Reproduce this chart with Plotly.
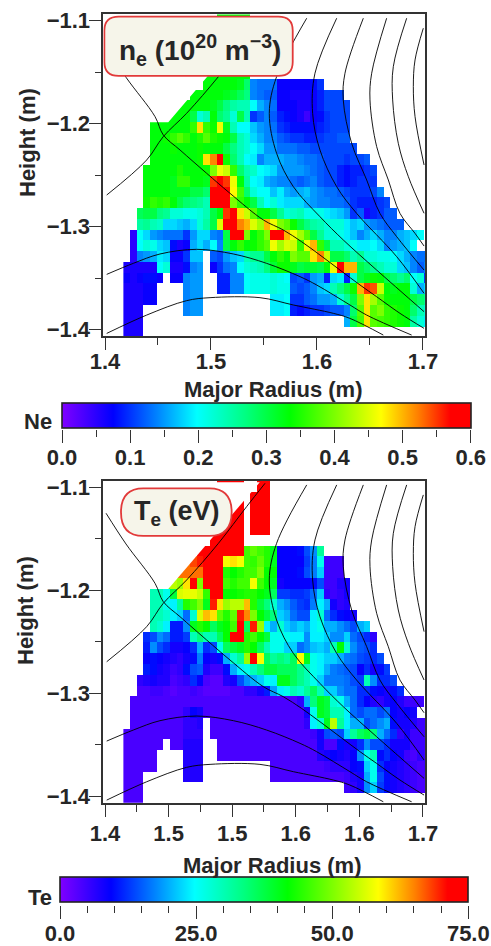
import plotly.graph_objects as go

N = None
# grid of the diagnostic cells (metres)
R_FIRST_CENTRE = 1.4205
R_STEP = 0.00629
Z_FIRST_CENTRE = -1.0991
Z_STEP = -0.010453
R_RANGE = [1.3984, 1.7019]
Z_RANGE = [-1.4061, -1.0939]
NE_RANGE = [0, 0.6]
TE_RANGE = [0, 75]

# electron density, units of 10^18 m^-3 (divide by 100 for 10^20)
NE_A6 = [N]*14 + [33, 33, 33, 33, 33]
NE_A5 = [N]*14 + [33, 33, 33, 33, 33]
NE_A4 = [N]*14 + [33, 33, 33, 33, 33]
NE_A3 = [N]*13 + [33, 33, 33, 33, 33, 33]
NE_A2 = [N]*13 + [33, 33, 33, 33, 33, 33]
NE_A1 = [N]*12 + [33, 33, 33, 33, 33, 33, 33]
NE_R00 = [N]*12 + [33, 33, 33, 33, 33, 32, 28, 14, 13, 13, 13, 7, 7, 7, 7, 7, 8, 10]
NE_R01 = [N]*10 + [33, 33, 33, 33, 33, 32, 31, 29, 27, 14, 13, 12, 12, 7, 7, 6, 6, 6, 7, 9, 11, 11, 11]
NE_R02 = [N]*8 + [33, 33, 33, 33, 33, 32, 30, 27, 25, 24, 24, 20, 16, 14, 13, 7, 7, 7, 6, 6, 7, 9, 11, 11, 11, 11]
NE_R03 = [N]*6 + [33, 33, 33, 33, 30, 22, 24, 33, 28, 26, 22, 30, 24, 10, 12, 14, 12, 9, 8, 7, 6, 4, 7, 8, 10, 11, 11, 11]
NE_R04 = [N]*4 + [33, 33, 33, 33, 33, 33, 36, 48, 36, 34, 46, 32, 24, 20, 20, 17, 15, 14, 13, 10, 9, 8, 8, 8, 8, 9, 10, 11, 11, 11]
NE_R05 = [N]*4 + [33, 33, 34, 36, 38, 36, 33, 35, 38, 35, 34, 33, 30, 24, 22, 18, 16, 14, 14, 12, 11, 10, 10, 9, 9, 10, 11, 11, 12, 12]
NE_R06 = [N]*4 + [33, 33, 33, 34, 33, 33, 33, 34, 33, 33, 33, 30, 27, 24, 22, 20, 18, 15, 15, 13, 13, 13, 12, 12, 11, 11, 11, 11, 11, 11, 11]
NE_R07 = [N]*4 + [33, 33, 33, 33, 33, 33, 33, 34, 48, 52, 57, 34, 28, 24, 20, 19, 14, 16, 16, 16, 15, 15, 14, 13, 13, 12, 11, 11, 11, 10, 11, 11, 12]
NE_R08 = [N]*3 + [33, 33, 33, 33, 33, 35, 33, 33, 33, 34, 40, 46, 44, 36, 28, 24, 23, 20, 19, 18, 15, 15, 15, 15, 14, 13, 12, 11, 11, 9, 8, 9, 9, 10, 11]
NE_R09 = [N]*3 + [33, 33, 33, 33, 32, 36, 36, 33, 33, 32, 55, 58, 55, 46, 33, 25, 20, 19, 16, 15, 14, 14, 13, 12, 13, 14, 12, 11, 11, 9, 8, 9, 10, 10, 10]
NE_R10 = [N]*3 + [33, 33, 33, 33, 32, 32, 32, 30, 30, 28, 58, 59, 58, 47, 37, 28, 22, 20, 20, 17, 19, 16, 15, 16, 17, 15, 14, 13, 13, 12, 11, 10, 10, 10, 11, 14]
NE_R11 = [N]*3 + [34, 36, 35, 36, 33, 30, 28, 27, 26, 24, 58, 59, 58, 40, 36, 33, 30, 24, 20, 22, 19, 18, 18, 18, 16, 15, 14, 14, 13, 13, 12, 10, 9, 9, 9, 10, 11]
NE_R12 = [N]*2 + [29, 30, 30, 27, 26, 22, 22, 21, 21, 22, 24, 30, 33, 55, 58, 48, 44, 38, 33, 33, 30, 26, 22, 23, 24, 21, 21, 21, 19, 18, 17, 15, 10, 12, 6, 9, 10, 12, 12]
NE_R13 = [N]*2 + [25, 26, 24, 23, 18, 18, 17, 16, 18, 22, 25, 30, 45, 58, 58, 52, 50, 45, 42, 50, 46, 40, 38, 34, 30, 27, 25, 24, 22, 22, 22, 19, 17, 18, 15, 14, 13, 12, 12, 12]
NE_R14 = [N]*1 + [5, 20, 18, 15, 14, 13, 13, 13, 10, 15, 18, 18, 14, 13, 30, 57, 58, 40, 33, 36, 40, 58, 58, 50, 46, 42, 38, 30, 26, 22, 22, 21, 19, 17, 14, 16, 18, 16, 14, 14, 16, 17, 18, 20]
NE_R15 = [N]*1 + [5, 20, 22, 21, 18, 17, 8, 6, 7, 16, 18, 16, 20, 14, 30, 33, 36, 33, 34, 36, 38, 46, 42, 45, 44, 36, 46, 50, 36, 30, 24, 24, 22, 21, 19, 19, 20, 18, 14, 15, 16, 17, 20]
NE_R16 = [N]*1 + [5, 14, 15, 16, 19, 18, 7, 7, 10, 17, 17, N, 12, 11, 15, 17, 18, 24, 26, 26, 30, 33, 36, 34, 40, 38, 38, 48, 52, 44, 30, 30, 28, 24, 26, 22, 22, 21, 21, 20, 18, 16, 14, 13, 13]
NE_R17 = [6, 6, 6, 6, 6, 20, 22, 6, 6, 8, 14, 15, N, 7, 10, 13, 14, 20, 22, 23, 24, 27, 31, 34, 34, 32, 30, 31, 31, 30, 33, 46, 58, 50, 50, 30, 28, 26, 24, 22, 22, 18, 17, 14, 12, 14]
NE_R18 = [7, 6, 7, 8, 8, 7, N, 7, 7, 14, 15, 15, N, N, 9, 9, 14, 14, 20, 21, 21, 21, 22, 21, 20, 11, 12, 10, 15, 16, 9, 18, 19, 9, 22, 30, 32, 34, 33, 30, 28, 26, 28, 20, 22, 10]
NE_R19 = [6, 6, 6, 7, 7, N, N, N, N, 14, 15, 15, N, N, 9, 9, 14, 14, 20, 21, 21, 21, 22, 21, 21, 12, 11, 12, 14, 17, 18, 24, 27, 30, 34, 50, 55, 54, 44, 33, 32, 33, 33, 22, 16, 18]
NE_R20 = [6, 6, 6, 7, 7, N, N, N, N, 14, 15, 15, N, N, N, N, N, N, N, N, N, N, 19, 19, 20, 10, 10, 12, 13, 15, 15, 16, 22, 26, 30, 40, 48, 42, 38, 34, 33, 33, 33, 30, 28, 26]
NE_R21 = [6, 6, 6, N, N, N, N, N, N, 14, 15, 15, N, N, N, N, N, N, N, N, N, N, 19, 19, 20, 9, 8, 9, 10, 10, 11, 12, 12, 14, 28, 38, 48, 38, 40, 36, 35, 34, 33, 28, 24, 22]
NE_R22 = [6, 6, 6] + [N]*30 + [16, 30, 37, 48, 38, 37, 36, 35, 34, 33, 25, 22, 19]
NE_R23 = [6, 6, 6]

# electron temperature, eV
TE_A6 = [N]*14 + [75, 75, 75, 75, N, N, 75, 75]
TE_A5 = [N]*14 + [75, 75, 75, 75, N, 75, 75, 75]
TE_A4 = [N]*15 + [75, 75, 75, N, 75, 75, 75]
TE_A3 = [N]*15 + [75, 75, 75, N, 75, 75, 75]
TE_A2 = [N]*14 + [75, 75, 75, 75, N, 75, 75, 75]
TE_A1 = [N]*13 + [75, 75, 75, 75, 75]
TE_R00 = [N]*11 + [75, 75, 75, 75, 75, 75, 75, 46, 48, 46, 44, 40, 9, 9, 9, 10, 14, 18, 32]
TE_R01 = [N]*9 + [66, 68, 70, 75, 75, 75, 58, 60, 58, 46, 45, 48, 44, 40, 9, 9, 9, 9, 13, 17, 26, 5, 5, 5]
TE_R02 = [N]*8 + [66, 66, 66, 66, 75, 75, 75, 44, 42, 44, 46, 46, 50, 42, 42, 9, 9, 9, 10, 14, 17, 22, 5, 5, 5]
TE_R03 = [N]*6 + [50, 54, 52, 60, 73, 50, 74, 75, 75, 46, 44, 46, 46, 58, 46, 42, 40, 8, 9, 9, 9, 9, 10, 14, 5, 5, 7, 8]
TE_R04 = [N]*4 + [30, 30, 26, 38, 56, 57, 57, 55, 45, 75, 75, 42, 42, 43, 44, 44, 42, 40, 36, 13, 13, 12, 12, 13, 16, 22, 6, 5, 6, 8]
TE_R05 = [N]*4 + [30, 30, 26, 24, 32, 44, 46, 50, 40, 70, 60, 52, 54, 54, 62, 44, 38, 34, 28, 20, 18, 15, 13, 12, 17, 24, 20, 8, 6, 7]
TE_R06 = [N]*4 + [30, 30, 28, 24, 22, 16, 28, 56, 62, 60, 48, 44, 48, 70, 65, 50, 42, 38, 34, 22, 20, 16, 14, 14, 24, 28, 16, 12, 10, 9, 8]
TE_R07 = [N]*4 + [30, 28, 24, 11, 11, 18, 40, 44, 42, 36, 40, 42, 46, 72, 36, 70, 52, 24, 20, 28, 22, 20, 22, 20, 24, 26, 20, 20, 18, 16, 14, 20, 22]
TE_R08 = [N]*3 + [12, 14, 18, 16, 11, 11, 13, 30, 34, 30, 30, 36, 42, 72, 74, 44, 46, 42, 38, 26, 26, 26, 24, 24, 18, 24, 24, 22, 18, 18, 22, 16, 14, 12, 6]
TE_R09 = [N]*3 + [11, 18, 14, 12, 8, 8, 9, 12, 20, 12, 14, 26, 36, 38, 40, 44, 42, 36, 30, 26, 26, 22, 22, 16, 18, 21, 22, 20, 30, 42, 28, 18, 15, 14, 12]
TE_R10 = [N]*3 + [9, 10, 9, 8, 7, 6, 8, 10, 17, 9, 8, 10, 20, 28, 32, 52, 72, 58, 36, 32, 34, 32, 36, 58, 40, 26, 24, 22, 22, 20, 17, 16, 14, 13, 12, 14]
TE_R11 = [N]*3 + [11, 10, 8, 7, 5, 6, 10, 14, 15, 7, 5, 5, 10, 20, 24, 26, 30, 34, 38, 38, 36, 36, 36, 33, 30, 26, 24, 20, 17, 16, 15, 14, 9, 12, 8, 10, 13]
TE_R12 = [N]*2 + [6, 7, 8, 7, 7, 4, 5, 6, 12, 9, 4, 3, 3, 7, 8, 14, 18, 20, 22, 26, 24, 40, 40, 36, 33, 30, 26, 22, 17, 17, 17, 16, 14, 13, 30, 18, 12, 12, 14]
TE_R13 = [N]*2 + [4, 4, 5, 5, 4, 3, 4, 4, 5, 4, 3, 3, 3, 3, 4, 4, 6, 6, 8, 11, 19, 24, 26, 30, 28, 32, 36, 30, 22, 22, 18, 16, 16, 12, 12, 10, 9, 8, 10, 12]
TE_R14 = [N]*1 + [4, 4, 4, 4, 4, 4, 4, 4, 4, 4, 4, 4, 4, 4, 4, 4, 4, 4, 4, 4, 4, 4, 4, 4, 4, 6, 20, 34, 40, 38, 28, 26, 20, 16, 12, 9, 7, 6, 8, 9, 7, 5, 5, 5]
TE_R15 = [N]*1 + [4, 4, 4, 4, 4, 4, 4, 4, 6, 9, 8, 4, 4, 4, 4, 4, 4, 4, 4, 4, 4, 4, 4, 4, 4, 4, 8, 26, 40, 38, 30, 30, 24, 16, 14, 16, 16, 14, 16, 9, 8, 9, 8]
TE_R16 = [N]*1 + [4, 4, 4, 4, 4, 4, 4, 4, 6, 6, 7, N, 4, 4, 4, 4, 4, 4, 4, 4, 4, 4, 4, 4, 4, 4, 6, 24, 28, 40, 54, 32, 24, 20, 20, 14, 16, 18, 20, 10, 8, 8, 7, 5, 5]
TE_R17 = [4, 4, 4, 4, 4, 4, 4, 4, 4, 6, 6, 6, N, 4, 4, 4, 4, 4, 4, 4, 4, 4, 4, 4, 4, 4, 4, 4, 5, 8, 14, 15, 14, 22, 32, 36, 38, 34, 20, 16, 12, 6, 8, 5, 5, 5]
TE_R18 = [4, 4, 4, 4, 4, 4, N, 4, 4, 7, 7, 7, N, N, 4, 4, 4, 4, 4, 4, 4, 4, 4, 4, 4, 4, 4, 4, 4, 8, 4, 4, 10, 8, 8, 12, 18, 14, 14, 12, 8, 8, 8, 5, 5, 5]
TE_R19 = [4, 4, 4, 4, 4, N, N, N, N, 7, 7, 7, N, N, 4, 4, 4, 4, 4, 4, 4, 4, 4, 4, 4, 4, 4, 4, 4, 7, 8, 9, 8, 7, 9, 18, 26, 30, 10, 12, 9, 8, 5, 4, 6, 5]
TE_R20 = [4, 4, 4, 4, 4, N, N, N, N, 7, 7, 7, N, N, N, N, N, N, N, N, N, N, 4, 4, 4, 4, 4, 4, 4, 4, 5, 6, 6, 6, 9, 10, 22, 26, 12, 9, 8, 7, 6, 5, 4, 5]
TE_R21 = [4, 4, 4, N, N, N, N, N, N, 7, 7, 7, N, N, N, N, N, N, N, N, N, N, 4, 4, 4, 4, 4, 4, 4, 4, 4, 4, 4, 5, 7, 8, 20, 26, 14, 10, 8, 7, 6, 5, 4, 4]
TE_R22 = [4, 4, 4] + [N]*30 + [5, 6, 8, 18, 22, 13, 10, 8, 7, 6, 5, 4, 4]
TE_R23 = [4, 4, 4]

NE_ROWS = [NE_A6, NE_A5, NE_A4, NE_A3, NE_A2, NE_A1, NE_R00, NE_R01, NE_R02, NE_R03, NE_R04, NE_R05,
           NE_R06, NE_R07, NE_R08, NE_R09, NE_R10, NE_R11, NE_R12, NE_R13, NE_R14, NE_R15, NE_R16,
           NE_R17, NE_R18, NE_R19, NE_R20, NE_R21, NE_R22, NE_R23]
TE_ROWS = [TE_A6, TE_A5, TE_A4, TE_A3, TE_A2, TE_A1, TE_R00, TE_R01, TE_R02, TE_R03, TE_R04, TE_R05,
           TE_R06, TE_R07, TE_R08, TE_R09, TE_R10, TE_R11, TE_R12, TE_R13, TE_R14, TE_R15, TE_R16,
           TE_R17, TE_R18, TE_R19, TE_R20, TE_R21, TE_R22, TE_R23]

# region outside the measured wedge, above the upper divertor leg
EDGE_R = [1.4597, 1.4943, 1.5289, 1.546, 1.44, 1.44]
NE_EDGE_Z = [-1.1987, -1.1576, -1.1155, -1.0965, -1.0965, -1.1987]
TE_EDGE_Z = [-1.1987, -1.1576, -1.1155, -1.0952, -1.0952, -1.1987]

# flux surfaces
LEG_A_R = [1.4016, 1.4393, 1.455, 1.477, 1.507, 1.5336, 1.551]
LEG_A_Z = [-1.2693, -1.2353, -1.2126, -1.19, -1.1544, -1.1188, -1.0961]
LEG_B_R = [1.401, 1.4198, 1.4472, 1.455, 1.4708, 1.4959, 1.5179, 1.5494, 1.5682, 1.5855, 1.6028, 1.6217, 1.6406, 1.6563, 1.6783, 1.701]
LEG_B_Z = [-1.1252, -1.155, -1.1932, -1.211, -1.2256, -1.2482, -1.2676, -1.2935, -1.3032, -1.3146, -1.3275, -1.3421, -1.3566, -1.368, -1.3841, -1.3987]
DIV_1_R = [1.4016, 1.4267, 1.4519, 1.4865, 1.5211, 1.5525, 1.584, 1.5997, 1.6311, 1.6469, 1.6893]
DIV_1_Z = [-1.3463, -1.3356, -1.3265, -1.322, -1.3265, -1.3356, -1.3485, -1.3566, -1.376, -1.3858, -1.4052]
DIV_2_R = [1.4016, 1.4393, 1.477, 1.4991, 1.5462, 1.5777, 1.6154, 1.6311, 1.6626]
DIV_2_Z = [-1.4036, -1.3858, -1.3718, -1.3689, -1.3689, -1.376, -1.3841, -1.389, -1.4052]
F1_R = [1.5903, 1.5619, 1.555, 1.5619, 1.5777, 1.6028, 1.6248, 1.6563, 1.701]
F1_Z = [-1.0977, -1.1544, -1.19, -1.2288, -1.2612, -1.2903, -1.3129, -1.3421, -1.3825]
F2_R = [1.6186, 1.5981, 1.5959, 1.6028, 1.6186, 1.6374, 1.6752, 1.701]
F2_Z = [-1.0977, -1.1511, -1.19, -1.2256, -1.2612, -1.2871, -1.3291, -1.3647]
F3_R = [1.6437, 1.6264, 1.6248, 1.6327, 1.6469, 1.6594, 1.6752, 1.701]
F3_Z = [-1.0977, -1.1511, -1.177, -1.2191, -1.2547, -1.2871, -1.3097, -1.3421]
F4_R = [1.6657, 1.6516, 1.65, 1.6563, 1.6673, 1.6783, 1.6925, 1.701]
F4_Z = [-1.0977, -1.1511, -1.177, -1.2223, -1.2547, -1.2871, -1.3065, -1.3188]
F5_R = [1.6846, 1.672, 1.6714, 1.6767, 1.6862, 1.701]
F5_Z = [-1.0977, -1.1447, -1.177, -1.2191, -1.2515, -1.287]
F6_R = [1.7003, 1.6925, 1.6909, 1.6925, 1.701]
F6_Z = [-1.1074, -1.1382, -1.1641, -1.1932, -1.2401]
CURVES = [(LEG_A_R, LEG_A_Z), (LEG_B_R, LEG_B_Z), (DIV_1_R, DIV_1_Z), (DIV_2_R, DIV_2_Z), (F1_R, F1_Z),
          (F2_R, F2_Z), (F3_R, F3_Z), (F4_R, F4_Z), (F5_R, F5_Z), (F6_R, F6_Z)]

WIDTH, HEIGHT = 491, 946
INK = "#262626"
FONT = "Liberation Sans"
TICK = dict(family=FONT, size=22, color=INK, weight=700)
COLORSCALE = [[0, "#8000ff"], [0.125, "#0000ff"], [0.23, "#0080ff"], [0.33, "#00ffff"], [0.45, "#00ff80"],
              [0.558, "#00ff00"], [0.67, "#80ff00"], [0.78, "#ffff00"], [0.87, "#ff8000"], [0.95, "#ff0000"], [1, "#ff0000"]]


def fx(px):
    return px / WIDTH


def fy(py):
    return 1 - py / HEIGHT


def pad(row):
    return list(row) + [None] * (46 - len(row))


def grid(rows, scale):
    return [[None if v is None else v * scale for v in pad(r)] for r in rows]


R_CENTRES = [R_FIRST_CENTRE + i * R_STEP for i in range(46)]
Z_CENTRES = [Z_FIRST_CENTRE + i * Z_STEP for i in range(30)]

fig = go.Figure()
panels = [("x", "y", NE_ROWS, 0.01, "coloraxis", NE_EDGE_Z), ("x2", "y2", TE_ROWS, 1, "coloraxis2", TE_EDGE_Z)]
for xa, ya, rows, scale, cax, edge in panels:
    fig.add_trace(go.Heatmap(x=R_CENTRES, y=Z_CENTRES, z=grid(rows, scale), coloraxis=cax, xaxis=xa, yaxis=ya,
                             hoverongaps=False))
    fig.add_trace(go.Scatter(x=EDGE_R, y=edge, mode="lines", fill="toself", fillcolor="white",
                             line=dict(width=0), xaxis=xa, yaxis=ya, showlegend=False, hoverinfo="skip"))
    for cr, cz in CURVES:
        fig.add_trace(go.Scatter(x=cr, y=cz, mode="lines", line=dict(color="black", width=0.9, shape="spline"),
                                 xaxis=xa, yaxis=ya, showlegend=False, hoverinfo="skip"))
# carriers for the two colour-bar tick axes
fig.add_trace(go.Scatter(x=[], y=[], xaxis="x3", yaxis="y3", showlegend=False))
fig.add_trace(go.Scatter(x=[], y=[], xaxis="x4", yaxis="y4", showlegend=False))


def main_x(dtick, minor, anchor, standoff):
    return dict(domain=[fx(103.3), fx(425)], range=R_RANGE, anchor=anchor, showgrid=False, zeroline=False,
                showline=True, linecolor="#333333", linewidth=1.6, mirror=True, ticks="outside", ticklen=12,
                tickwidth=1.4, tickcolor="#333333", tick0=1.4, dtick=dtick, tickformat=".1f", tickfont=TICK,
                ticklabelstandoff=standoff,
                minor=dict(dtick=minor, tick0=1.4, ticks="outside", ticklen=7, tickwidth=1.2, tickcolor="#333333"))


def main_y(top, bottom, anchor):
    return dict(domain=[fy(bottom), fy(top)], range=Z_RANGE, anchor=anchor, showgrid=False, zeroline=False,
                showline=True, linecolor="#333333", linewidth=1.6, mirror=True, ticks="outside", ticklen=13,
                tickwidth=1.4, tickcolor="#333333", tick0=-1.4, dtick=0.1, tickformat=".1f", tickfont=TICK,
                ticklabelstandoff=-6,
                minor=dict(dtick=0.05, tick0=-1.4, ticks="outside", ticklen=7, tickwidth=1.2, tickcolor="#333333"))


def bar_x(left, right, rng, dtick, minor, anchor):
    return dict(domain=[fx(left), fx(right)], range=rng, anchor=anchor, showgrid=False, zeroline=False,
                showline=False, ticks="outside", ticklen=13, tickwidth=1.4, tickcolor="#333333", tick0=0,
                dtick=dtick, tickformat=".1f", tickfont=TICK, ticklabelstandoff=-4,
                minor=dict(dtick=minor, tick0=0, ticks="outside", ticklen=7, tickwidth=1.2, tickcolor="#333333"))


def bar_y(py, anchor):
    return dict(domain=[fy(py + 1), fy(py)], anchor=anchor, visible=False, range=[0, 1])


def colour_axis(rng, left, right, top):
    return dict(cmin=rng[0], cmax=rng[1], colorscale=COLORSCALE,
                colorbar=dict(orientation="h", x=fx(left), xanchor="left", y=fy(top), yanchor="top", xref="paper",
                              yref="paper", len=right - left, lenmode="pixels", thickness=25, thicknessmode="pixels",
                              xpad=0, ypad=0, ticks="", showticklabels=False, outlinecolor="#222222",
                              outlinewidth=1.6, borderwidth=0))


def pill(x0, x1, y0, y1, rx, ry):
    return (f"M {x0 + rx} {y1} L {x1 - rx} {y1} Q {x1} {y1} {x1} {y1 - ry} L {x1} {y0 + ry} Q {x1} {y0} {x1 - rx} {y0} "
            f"L {x0 + rx} {y0} Q {x0} {y0} {x0} {y0 + ry} L {x0} {y1 - ry} Q {x0} {y1} {x0 + rx} {y1} Z")


def note(text, px, py, size=22, angle=0, anchor="center"):
    return dict(text=text, x=fx(px), y=fy(py), xref="paper", yref="paper", xanchor=anchor, yanchor="middle",
                showarrow=False, textangle=angle, font=dict(family=FONT, size=size, color=INK, weight=700))


BOX = dict(type="path", layer="above", fillcolor="#f6f5ea", line=dict(color="#e23a3a", width=1.8))
fig.update_layout(
    width=WIDTH, height=HEIGHT, margin=dict(l=0, r=0, t=0, b=0, autoexpand=False), autosize=False,
    paper_bgcolor="white", plot_bgcolor="white", showlegend=False,
    xaxis=main_x(0.1, 0.05, "y", -7), yaxis=main_y(14.3, 336, "x"),
    xaxis2=main_x(0.06, 0.03, "y2", -2), yaxis2=main_y(481, 802.7, "x2"),
    xaxis3=bar_x(62, 470.7, NE_RANGE, 0.1, 0.05, "y3"), yaxis3=bar_y(428, "x3"),
    xaxis4=bar_x(60, 468.3, TE_RANGE, 25, 5, "y4"), yaxis4=bar_y(904, "x4"),
    coloraxis=colour_axis(NE_RANGE, 62, 470.7, 403),
    coloraxis2=colour_axis(TE_RANGE, 60, 468.3, 877),
    shapes=[
        dict(BOX, xref="x", yref="y", path=pill(1.3994, 1.5771, -1.1537, -1.0961, 0.0135, 0.0135)),
        dict(BOX, xref="x2", yref="y2", path=pill(1.4151, 1.5195, -1.1472, -1.101, 0.021, 0.023)),
    ],
    annotations=[
        note("n<sub>e</sub> (10<sup>20</sup> m<sup>−3</sup>)", 200, 50, size=28),
        note("T<sub>e</sub> (eV)", 177, 513, size=27),
        note("Height (m)", 27, 143, angle=-90),
        note("Height (m)", 25, 611, angle=-90),
        note("Major Radius (m)", 273, 389),
        note("Major Radius (m)", 272, 865),
        note("Ne", 54, 421, anchor="right"),
        note("Te", 54, 897, anchor="right"),
    ],
)

fig.write_html("out.html", config=dict(displayModeBar=False), post_script="document.body.style.margin='0';")
